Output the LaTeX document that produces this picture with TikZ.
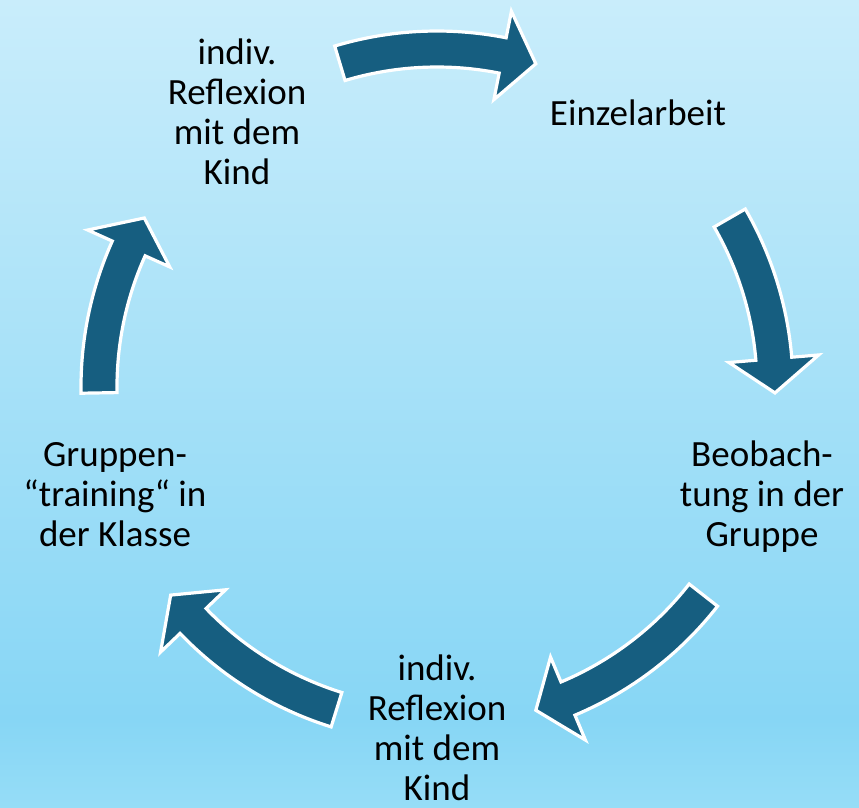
\documentclass[tikz,border=0pt]{standalone}
\usepackage{fontspec}
\setmainfont{Carlito}
\definecolor{bgtop}{RGB}{201,237,251}
\definecolor{bgmid}{RGB}{135,214,245}
\definecolor{bgbot}{RGB}{150,221,247}
\definecolor{arrowblue}{RGB}{22,94,128}
\tikzset{
  arr/.style={fill=arrowblue, draw=white, line width=3.2pt, line join=miter},
  lbl/.style={align=center, font=\fontsize{37}{40}\selectfont, text=black, inner sep=0pt}
}
\newcommand\drawcyclearrow[2]{%
  \pgfmathsetmacro\baseang{#2+5.8}%
  \path[arr] (#1:356pt) arc[start angle=#1, end angle=\baseang, radius=356pt]
    -- (\baseang:383pt) -- (#2:338pt) -- (\baseang:293pt) -- (\baseang:320pt)
    arc[start angle=\baseang, end angle=#1, radius=320pt] -- cycle;}
\begin{document}
\begin{tikzpicture}[x=1pt,y=1pt]
\useasboundingbox (0,0) rectangle (859,-808);
\shade[top color=bgtop, bottom color=bgmid] (0,0) rectangle (859,-720);
\shade[top color=bgmid, bottom color=bgbot] (0,-720) rectangle (859,-808);
\begin{scope}[shift={(437,-387)}]
  \drawcyclearrow{106.7}{73}
  \drawcyclearrow{30}{-1}
  \drawcyclearrow{-38}{-73}
  \drawcyclearrow{-107.3}{-142}
  \drawcyclearrow{-179}{-210}
\end{scope}
\node[lbl] (refl1) at (237,-112) {indiv.\\Reflexion\\mit dem\\Kind};
\node[lbl] (einzel) at (638,-113) {Einzelarbeit};
\node[lbl] (beob) at (762,-497) {Beobach-\\tung in der\\Gruppe};
\node[lbl] (refl2) at (437,-728) {indiv.\\Reflexion\\mit dem\\Kind};
\node[lbl] (gruppe) at (115,-495) {Gruppen-\\“training“ in\\der Klasse};
\end{tikzpicture}
\end{document}
